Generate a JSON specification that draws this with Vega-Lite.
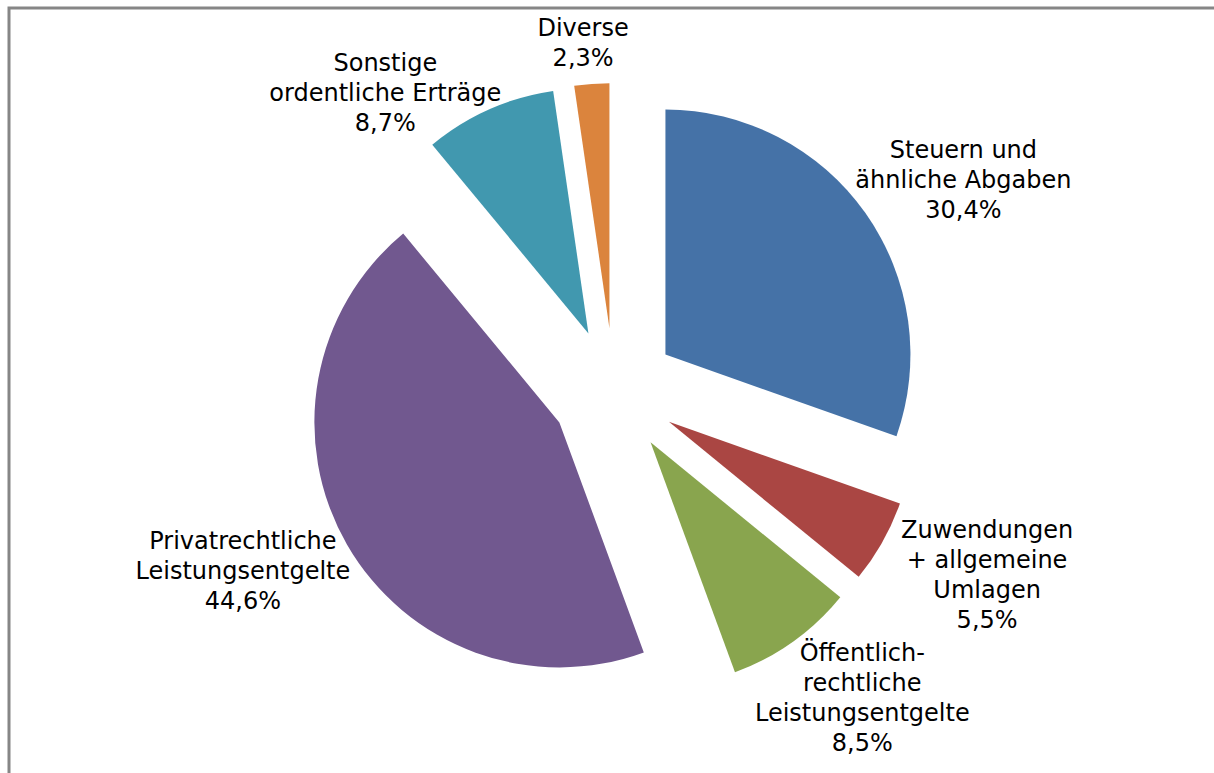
{
  "$schema": "https://vega.github.io/schema/vega-lite/v6.json",
  "width": 1220,
  "height": 780,
  "autosize": {"type": "none"},
  "padding": {"left": 9, "top": 8, "right": 0, "bottom": 0},
  "background": "white",
  "view": {"stroke": "#868686", "strokeWidth": 3, "fill": "white"},
  "data": {
    "values": [
      {"order": 1, "name": "Steuern und\nähnliche Abgaben", "value": 30.4},
      {"order": 2, "name": "Zuwendungen\n+ allgemeine\nUmlagen", "value": 5.5},
      {"order": 3, "name": "Öffentlich-\nrechtliche\nLeistungsentgelte", "value": 8.5},
      {"order": 4, "name": "Privatrechtliche\nLeistungsentgelte", "value": 44.6},
      {"order": 5, "name": "Sonstige\nordentliche Erträge", "value": 8.7},
      {"order": 6, "name": "Diverse", "value": 2.3}
    ]
  },
  "transform": [
    {"calculate": "datum.name + '\\n' + replace(format(datum.value, '.1f'), '.', ',') + '%'", "as": "label"}
  ],
  "encoding": {
    "theta": {"field": "value", "type": "quantitative", "stack": true},
    "order": {"field": "order", "type": "quantitative"}
  },
  "layer": [
    {
      "mark": {
        "type": "arc",
        "radius": 245,
        "x": {"expr": "width/2 - 5"},
        "y": {"expr": "height/2 - 7"},
        "xOffset": {"expr": "63*sin(scale('theta',(datum.value_start+datum.value_end)/2))"},
        "yOffset": {"expr": "-63*cos(scale('theta',(datum.value_start+datum.value_end)/2))"}
      },
      "encoding": {
        "color": {
          "field": "order",
          "type": "nominal",
          "scale": {"domain": [1, 2, 3, 4, 5, 6], "range": ["#4572A7", "#AA4643", "#89A54E", "#71588F", "#4198AF", "#DB843D"]},
          "legend": null
        }
      }
    },
    {
      "mark": {
        "type": "text",
        "radius": 318,
        "x": {"expr": "width/2 - 5"},
        "y": {"expr": "height/2 - 7"},
        "dx": {"expr": "110*sin(scale('theta',(datum.value_start+datum.value_end)/2)) + (scale('theta',(datum.value_start+datum.value_end)/2) > 5.2 && scale('theta',(datum.value_start+datum.value_end)/2) < 6.1 ? -55 : 0)"},
        "dy": {"expr": "-15*length(split(datum.label,'\\n'))*cos(scale('theta',(datum.value_start+datum.value_end)/2)) - 15*(length(split(datum.label,'\\n'))-1) + (scale('theta',(datum.value_start+datum.value_end)/2) > 5.2 && scale('theta',(datum.value_start+datum.value_end)/2) < 6.1 ? 35 : 0)"},
        "font": "DejaVu Sans",
        "fontSize": 24,
        "lineHeight": 30,
        "lineBreak": "\n",
        "align": "center",
        "baseline": "middle",
        "color": "#000000"
      },
      "encoding": {"text": {"field": "label", "type": "nominal"}}
    }
  ]
}
